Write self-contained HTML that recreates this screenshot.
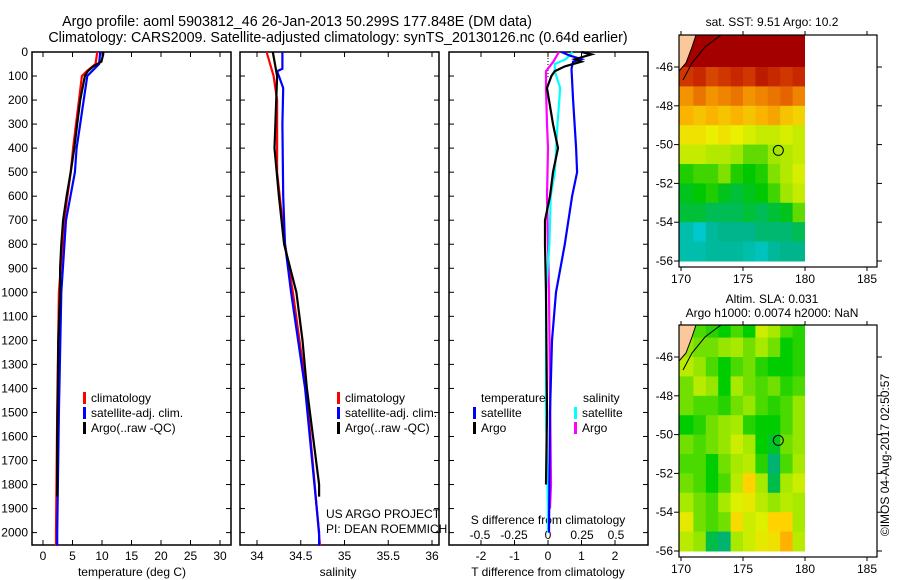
<!DOCTYPE html>
<html><head><meta charset="utf-8"><style>
body{margin:0;background:#fff;}
svg{display:block;font-family:"Liberation Sans",sans-serif;font-size:12px;}
</style></head><body>
<svg id="fig" width="900" height="580" viewBox="0 0 900 580" xmlns="http://www.w3.org/2000/svg">
<text x="297" y="26" text-anchor="middle" font-size="14.3">Argo profile: aoml 5903812_46 26-Jan-2013 50.299S 177.848E (DM data)</text>
<text x="338" y="42" text-anchor="middle" font-size="14.3">Climatology: CARS2009. Satellite-adjusted climatology: synTS_20130126.nc (0.64d earlier)</text>
<g id="g"></g>
</svg>
<script>
// ---- profile data (depth m) ----
const tArgoDepth=[0,10,40,60,80,100,200,300,400,500,600,700,800,900,1000,1200,1400,1600,1800,1850];
const tArgo=[10.2,10.2,9.9,8.5,7.6,7.1,6.3,5.8,5.3,4.7,4.0,3.4,3.1,2.9,2.9,2.6,2.5,2.4,2.4,2.4];
const tClimDepth=[0,50,80,100,200,300,400,500,700,1000,1500,2000,2055];
const tClim=[9.2,8.9,7.4,6.6,6.1,5.6,5.1,4.7,3.6,2.7,2.4,2.2,2.2];
const tSatDepth=[0,50,80,100,200,300,400,500,700,1000,1500,2000,2055];
const tSat=[9.7,9.5,8.3,7.5,6.9,6.3,5.7,5.4,3.9,3.1,2.7,2.4,2.4];
const sArgoDepth=[0,100,400,600,800,1000,1200,1400,1600,1800,1850];
const sArgo=[34.18,34.23,34.2,34.25,34.31,34.45,34.52,34.57,34.64,34.71,34.71];
const sClimDepth=[0,50,100,200,500,800,1000,1400,1800,2055];
const sClim=[34.11,34.15,34.19,34.23,34.23,34.32,34.41,34.56,34.66,34.72];
const sSatDepth=[0,70,80,120,150,300,600,800,1000,1400,2000,2055];
const sSat=[34.29,34.29,34.23,34.27,34.3,34.29,34.3,34.32,34.39,34.55,34.71,34.71];
const dTArgoDepth=[0,10,30,40,60,80,100,150,200,300,400,500,600,700,800,1000,1500,1800];
const dTArgo=[1.0,1.3,0.8,1.0,0.5,0.2,0.1,-0.03,0.03,0.15,0.3,0.15,0.06,-0.09,-0.09,-0.06,-0.03,-0.06];
const dTSatDepth=[0,15,30,40,70,200,400,500,600,800,1000,1200,1500,2000];
const dTSat=[0.4,0.65,1.0,0.75,0.7,0.75,0.84,0.87,0.72,0.5,0.24,0.12,0.06,0.03];
const dSSatDepth=[0,30,50,80,150,300,400,500,600,800,1000,1500,1900,2000];
const dSSat=[0.18,0.13,0.05,0.05,0.09,0.07,0.06,0.05,0.02,0.01,-0.015,-0.015,0.0,0.0];
const dSArgoDepth=[0,40,80,150,300,400,600,800,1000,1400,1800,1900];
const dSArgo=[0.08,0.04,-0.015,-0.015,-0.007,0.0,-0.007,0.0,0.007,0.015,0.022,0.015];
const depthTicks=[0,100,200,300,400,500,600,700,800,900,1000,1100,1200,1300,1400,1500,1600,1700,1800,1900,2000];
const tTicks=[0,5,10,15,20,25,30];
const sTicks=[34,34.5,35,35.5,36];
const sTickLabels=["34","34.5","35","35.5","36"];
const dTTicks=[-2,-1,0,1,2];
const dSTicks=[-0.5,-0.25,0,0.25,0.5];
const dSTickLabels=["-0.5","-0.25","0","0.25","0.5"];
// ---- map data (rows lat -44.5..-56.5 by 1deg, cols lon 170..180) ----
const sstRows=[
[12,12,12,12,12,12,12,12,12,12],
[12,12,12,12,12,12,12,12,12,12],
[11.6,11.7,11.5,11.6,11.7,11.6,11.8,11.7,11.6,11.7],
[11,11.2,11,11.1,11.2,11,11.1,11.2,11.3,11.1],
[10.8,10.7,10.8,10.7,10.8,10.7,10.8,10.9,10.7,10.6],
[10.5,10.5,10.4,10.5,10.4,10.3,10.2,10.2,10.3,10.2],
[10.2,10.2,10.1,10.1,10,9.8,9.8,10,10.1,10.2],
[9.6,9.7,9.7,9.9,9.6,9.5,9.6,9.9,10.1,10.3],
[9.4,9.5,9.6,9.4,9.3,9.4,9.5,9.7,10,10.2],
[9.3,9.3,9.2,9.2,9.2,9.3,9.2,9.3,9.4,9.8],
[8.8,8.6,8.9,9,9,9,9.1,9.1,9.1,9.2],
[8.8,8.8,8.9,8.9,8.9,8.8,8.7,8.9,9,9]];
const slaRows=[
[0.03,0.02,0.01,0.0,0.02,0.0,0.07,0.05,0.02,0.01],
[0.04,0.03,0.03,0.04,0.05,0.03,0.05,0.03,0.0,0.01],
[0.06,0.04,0.02,0.0,0.02,0.03,0.01,0.0,0.0,0.01],
[0.03,0.06,0.04,0.0,0.05,0.03,0.02,0.03,0.01,0.02],
[0.03,0.02,0.02,0.01,0.03,0.04,0.02,0.01,0.02,0.04],
[0.0,0.01,0.03,0.04,0.05,0.01,0.0,0.0,0.02,0.04],
[0.03,0.02,0.03,0.04,0.07,0.05,0.0,-0.01,0.03,0.04],
[0.02,0.02,0.0,0.03,0.05,0.06,0.01,-0.03,0.02,0.05],
[0.03,0.02,0.0,0.02,0.06,0.12,0.05,-0.02,0.05,0.07],
[0.05,0.03,0.02,0.05,0.08,0.09,0.06,0.04,0.06,0.05],
[0.09,0.03,0.02,0.03,0.11,0.07,0.08,0.12,0.12,0.05],
[0.06,0.04,-0.02,-0.03,0.05,0.07,0.09,0.1,0.14,0.06]];
const latTicks=[-46,-48,-50,-52,-54,-56];
const lonTicks=[170,175,180,185];
const argoLon=177.848, argoLat=-50.299;

const NS="http://www.w3.org/2000/svg";
const G=document.getElementById('g');
function mk(tag,at,parent){const e=document.createElementNS(NS,tag);for(const k in at)e.setAttribute(k,at[k]);(parent||G).appendChild(e);return e;}
function txt(s,x,y,anchor,name,extra){const e=mk('text',Object.assign({x:x,y:y,'text-anchor':anchor||'middle'},extra||{}));e.textContent=s;return e;}
const Y0=52,Y1=545;
const yD=d=>Y0+d*0.2403;
function panel(x0,x1,name){const r=mk('rect',{x:x0,y:Y0,width:x1-x0,height:Y1-Y0,fill:'none',stroke:'#000','stroke-width':1.5});

depthTicks.forEach(d=>{const y=yD(d);mk('line',{x1:x0,x2:x0+5,y1:y,y2:y,stroke:'#000'});mk('line',{x1:x1-5,x2:x1,y1:y,y2:y,stroke:'#000'});});}
function xticks(xs,fx){xs.forEach(v=>{const x=fx(v);mk('line',{x1:x,x2:x,y1:Y1,y2:Y1-5,stroke:'#000'});mk('line',{x1:x,x2:x,y1:Y0,y2:Y0+5,stroke:'#000'});});}
function line(ds,vs,fx,color,name,w){const p=ds.map((d,i)=>fx(vs[i]).toFixed(1)+','+yD(d).toFixed(1)).join(' ');
const e=mk('polyline',{points:p,fill:'none',stroke:color,'stroke-width':w||2.2});}
// panel 1
const xT=t=>43+t*5.9;
panel(32,231,'temperature-panel');xticks(tTicks,xT);
depthTicks.forEach(d=>txt(String(d),28,yD(d)+4,'end','depth-tick-label'));
tTicks.forEach(t=>txt(String(t),xT(t),560,'middle','temperature-tick-label'));
txt('temperature (deg C)',132,576,'middle','temperature-axis-title');
line(tClimDepth,tClim,xT,'#f00','temperature-climatology-line');
line(tSatDepth,tSat,xT,'#00f','temperature-satellite-line');
line(tArgoDepth,tArgo,xT,'#000','temperature-argo-line');
function legend(x,y,items,pre){items.forEach((it,i)=>{mk('rect',{x:x,y:y+i*15-10,width:3,height:12,fill:it[1]});txt(it[0],x+8,y+i*15,'start',pre+'-legend-entry');});}
legend(83,402,[['climatology','#f00'],['satellite-adj. clim.','#00f'],['Argo(..raw -QC)','#000']],'temperature');
// panel 2
const xS=s=>257+(s-34)*87.5;
panel(240,439,'salinity-panel');xticks(sTicks,xS);
sTicks.forEach((s,i)=>txt(sTickLabels[i],xS(s),560,'middle','salinity-tick-label'));
txt('salinity',338,576,'middle','salinity-axis-title');
line(sClimDepth,sClim,xS,'#f00','salinity-climatology-line');
line(sSatDepth,sSat,xS,'#00f','salinity-satellite-line');
line(sArgoDepth,sArgo,xS,'#000','salinity-argo-line');
legend(337,402,[['climatology','#f00'],['satellite-adj. clim.','#00f'],['Argo(..raw -QC)','#000']],'salinity');
txt('US ARGO PROJECT',326,518,'start','project-label');
txt('PI: DEAN ROEMMICH',326,533,'start','pi-label');
// panel 3
const xDT=t=>548+t*33.5, xDS=s=>548+s*136;
panel(449,648,'difference-panel');xticks(dTTicks,xDT);
dTTicks.forEach(t=>txt(String(t),xDT(t),560,'middle','t-difference-tick-label'));
dSTicks.forEach((s,i)=>txt(dSTickLabels[i],xDS(s),539,'middle','s-difference-tick-label'));
txt('S difference from climatology',548,524,'middle','s-difference-axis-title');
txt('T difference from climatology',548,576,'middle','t-difference-axis-title');
mk('line',{x1:548,x2:548,y1:Y0,y2:yD(110),stroke:'#000','stroke-dasharray':'1,2'});
line(dSArgoDepth,dSArgo,xDS,'#f0f','s-difference-argo-line');
line(dSSatDepth,dSSat,xDS,'#0ff','s-difference-satellite-line');
line(dTSatDepth,dTSat,xDT,'#00f','t-difference-satellite-line');
line(dTArgoDepth,dTArgo,xDT,'#000','t-difference-argo-line');
txt('temperature',481,402,'start','legend-temperature-heading');
txt('salinity',583,402,'start','legend-salinity-heading');
legend(473,417,[['satellite','#00f'],['Argo','#000']],'t-difference');
legend(574,417,[['satellite','#0ff'],['Argo','#f0f']],'s-difference');
// maps
function interp(stops,v){if(v<=stops[0][0])return stops[0][1];for(let i=1;i<stops.length;i++){if(v<=stops[i][0]){const a=stops[i-1],b=stops[i],f=(v-a[0])/(b[0]-a[0]);return 'rgb('+a[1].match(/\d+/g).map((c,k)=>Math.round(+c+(+b[1].match(/\d+/g)[k]-c)*f)).join(',')+')';}}return stops[stops.length-1][1];}
const sstStops=[[8.5,'rgb(0,205,220)'],[9,'rgb(0,180,140)'],[9.5,'rgb(0,200,0)'],[10,'rgb(160,230,0)'],[10.4,'rgb(235,240,0)'],[10.8,'rgb(250,180,0)'],[11.3,'rgb(230,100,0)'],[11.7,'rgb(200,40,0)'],[12,'rgb(165,0,0)']];
const slaStops=[[-0.04,'rgb(0,170,150)'],[0,'rgb(0,205,0)'],[0.04,'rgb(150,230,0)'],[0.08,'rgb(220,240,0)'],[0.12,'rgb(255,210,0)'],[0.15,'rgb(255,160,0)']];
function map(top,bot,yLatA,rows,stops,name){
 const xL=l=>681+(l-170)*12.4, yL=l=>yLatA+(-46-l)*19.4;
 const cid='clip'+name;const cp=mk('clipPath',{id:cid});mk('rect',{x:679,y:top,width:198,height:bot-top},cp);
 const g=mk('g',{'clip-path':'url(#'+cid+')'});
 rows.forEach((r,i)=>r.forEach((v,j)=>{const lat=-44.5-i;const x=xL(170+j)-(j==0?3:0);const y=yL(lat+0.5)-(i==0?20:0);
  const c=mk('rect',{x:x,y:y,width:xL(171+j)-x+0.5,height:yL(lat-0.5)-y+0.5,fill:interp(stops,v)},g);
  }));
 mk('rect',{x:xL(180),y:top,width:80,height:bot-top,fill:'#fff'},g);
 mk('polygon',{points:`679,${top} 696,${top} 692,${top+12} 686,${top+28} 679,${top+36}`,fill:'#fac89a'},g);
 mk('polyline',{points:`696,${top} 692,${top+12} 686,${top+28} 679,${top+36}`,fill:'none',stroke:'#000'},g);
 mk('polyline',{points:`721,${top} 705,${top+12} 692,${top+28} 683,${top+45}`,fill:'none',stroke:'#000'},g);
 const b=mk('rect',{x:679,y:top,width:198,height:bot-top,fill:'none',stroke:'#000','stroke-width':1.2});
 latTicks.forEach(l=>{const y=yL(l);mk('line',{x1:674,x2:679,y1:y,y2:y,stroke:'#000'});mk('line',{x1:877,x2:882,y1:y,y2:y,stroke:'#000'});txt(String(l),673,y+4,'end','latitude-tick-label');});
 lonTicks.forEach(l=>{const x=xL(l);mk('line',{x1:x,x2:x,y1:bot,y2:bot+4,stroke:'#000'});mk('line',{x1:x,x2:x,y1:top-4,y2:top,stroke:'#000'});txt(String(l),x,bot+16,'middle','longitude-tick-label');});
 const c=mk('circle',{cx:xL(argoLon),cy:yL(argoLat),r:5,fill:'none',stroke:'#000'});
}
map(35,267,67,sstRows,sstStops,'sst-map');
txt('sat. SST: 9.51  Argo: 10.2',772,26,'middle','sst-map-title');
map(325,557,357,slaRows,slaStops,'sla-map');
txt('Altim. SLA: 0.031',772,303,'middle','sla-map-title');
txt('Argo h1000: 0.0074 h2000: NaN',772,317,'middle','sla-map-subtitle');
txt('©IMOS 04-Aug-2017 02:50:57',0,0,'middle','timestamp-label',{transform:'translate(889,455) rotate(-90)'});
</script>
</body></html>
